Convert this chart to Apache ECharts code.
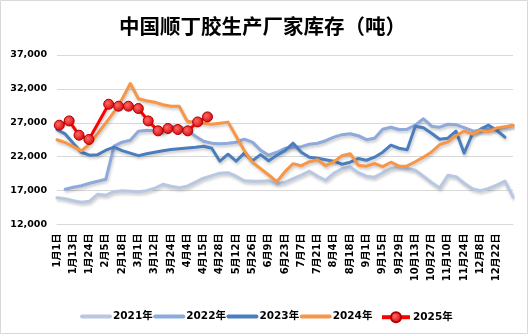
<!DOCTYPE html>
<html>
<head>
<meta charset="utf-8">
<script src="https://cdn.jsdelivr.net/npm/echarts@6/dist/echarts.min.js"></script>
<style>
html,body{margin:0;padding:0;background:#fff;}
#c{width:528px;height:334px;}
</style>
</head>
<body>
<div id="c"></div>
<script>
const categories = ['1月1日','1月7日','1月13日','1月18日','1月24日','1月30日','2月5日','2月12日','2月18日','2月24日',
 '3月1日','3月6日','3月12日','3月18日','3月24日','3月29日','4月4日','4月10日','4月15日','4月21日',
 '4月28日','5月5日','5月12日','5月19日','5月26日','6月2日','6月9日','6月16日','6月23日','6月30日',
 '7月7日','7月14日','7月21日','7月28日','8月4日','8月11日','8月18日','8月25日','9月1日','9月8日',
 '9月15日','9月22日','9月29日','10月6日','10月13日','10月20日','10月27日','11月3日','11月10日','11月17日',
 '11月24日','12月1日','12月8日','12月15日','12月22日','12月29日','12月31日'];
const categories2025 = ['1月3日','1月10日','1月17日','1月24日','1月31日','2月7日','2月14日','2月21日','2月28日','3月7日','3月14日','3月21日','3月28日','4月4日','4月11日','4月18日'];
const s2021 = [15950,15800,15510,15290,15440,16470,16320,16840,16990,16910,
 16840,16990,17350,17940,17650,17430,17650,18240,18830,19200,
 19570,19640,19120,18460,18390,18390,18460,18020,18240,18760,
 19270,19860,19120,18530,19570,20230,20500,19640,19120,18980,
 19640,20260,20500,20260,20010,19120,18200,17400,19270,19050,
 18090,17280,16990,17310,17800,18390,16070];
const s2022 = [null,17210,17500,17720,18090,18390,18680,23550,24140,24430,
 25760,25910,25840,25470,26500,26500,25910,25020,24290,24000,
 23920,24000,24140,24580,24140,22960,22220,22660,23250,23400,
 23480,23840,23990,24360,24880,25250,25390,25100,24510,24730,
 26060,26350,26010,26060,26650,27600,26500,26350,26790,26720,
 26280,25840,25760,26130,26060,26350,26650];
const s2023 = [26000,25360,24000,22660,22220,22300,22960,23400,22890,22520,
 22150,22440,22660,22890,23060,23180,23300,23400,23550,23250,
 21340,22370,21340,22520,21410,22300,21410,22220,22890,23990,
 22660,21930,21780,21560,21340,20890,21190,21740,21480,21930,
 22660,23700,23250,23030,26500,26280,25470,24580,24730,25760,
 22520,25320,26060,26650,25900,24880,null];
const s2024 = [24500,24100,23480,22860,23900,25400,27000,28600,30500,32800,
 30550,30260,30040,29670,29450,29450,27240,27100,26950,26800,
 26950,27100,25000,22900,21190,20230,19300,18310,19800,20970,
 20670,21260,21560,20670,21260,22150,22440,20750,20600,21000,
 20530,21190,20600,20640,21260,21930,22710,23770,24180,25100,
 25800,25320,25910,25660,26250,26430,26600];
const s2025 = [26650,27280,25170,24540,null,29740,29450,29450,29110,27280,25810,26160,26010,25810,27130,27870];
const yTicks = [12000,17000,22000,27000,32000,37000];
const seriesNames = ['2021年','2022年','2023年','2024年','2025年'];

const colors = ['#B9C8E2','#8EA9DB','#4A7EBE','#F79646','#FF0000'];
const lblFont = "'DejaVu Sans','Noto Sans CJK SC',sans-serif";
const shadow = {shadowColor:'rgba(0,0,0,0.22)',shadowBlur:3,shadowOffsetX:1,shadowOffsetY:2};
const legendText = {fontFamily:lblFont, fontSize:10.5, fontWeight:'bold', color:'#000', padding:[0,0,0,-2]};

function lineSeries(name, data, color){
  return {
    name, type:'line', data, xAxisIndex:0, yAxisIndex:0,
    symbol:'none', smooth:false, connectNulls:false,
    lineStyle:Object.assign({color, width:3, cap:'round', join:'round'}, shadow),
    itemStyle:{color}
  };
}

const chart = echarts.init(document.getElementById('c'), null, {renderer:'canvas'});
chart.setOption({
  animation:false,
  backgroundColor:'#fff',
  graphic:[{type:'rect', shape:{x:0.5,y:0.5,width:527,height:333}, style:{fill:'none',stroke:'#D9D9D9',lineWidth:1}, silent:true}],
  title:{
    text:'中国顺丁胶生产厂家库存（吨）', left:114, top:11,
    textStyle:{fontFamily:"'Noto Sans CJK SC',sans-serif", fontSize:20.5, fontWeight:'bold', color:'#000'}
  },
  legend:[
    {data:seriesNames.slice(0,4), left:75, top:306.2, itemWidth:28, itemHeight:4, itemGap:0.5,
     lineStyle:{width:4}, textStyle:legendText},
    {data:seriesNames.slice(4), left:375, top:306.2, itemWidth:28, itemHeight:12.5, itemGap:0.5,
     lineStyle:{width:4}, textStyle:legendText}
  ],
  grid:[
    {left:57, top:55, width:456, height:169.5},
    {left:59.3, top:55, width:148.2, height:169.5}
  ],
  xAxis:[
    {type:'category', gridIndex:0, data:categories, boundaryGap:false,
     axisLine:{lineStyle:{color:'#D9D9D9'}}, axisTick:{show:false},
     axisLabel:{rotate:90, margin:9, fontFamily:lblFont, fontSize:10, fontWeight:'bold', color:'#000',
       interval:function(i){return i%2===0 && i<categories.length-1;}},
     splitLine:{show:false}},
    {type:'category', gridIndex:1, data:categories2025, boundaryGap:false, show:false}
  ],
  yAxis:[
    {type:'value', gridIndex:0, min:yTicks[0], max:yTicks[yTicks.length-1], interval:yTicks[1]-yTicks[0],
     axisLine:{show:false}, axisTick:{show:false},
     axisLabel:{margin:10, fontFamily:lblFont, fontSize:9.5, fontWeight:'bold', color:'#000',
       formatter:function(v){return v.toLocaleString('en-US');}},
     splitLine:{lineStyle:{color:'#D9D9D9', width:1}}},
    {type:'value', gridIndex:1, min:yTicks[0], max:yTicks[yTicks.length-1], show:false, splitLine:{show:false}}
  ],
  series:[
    lineSeries(seriesNames[0], s2021, colors[0]),
    lineSeries(seriesNames[1], s2022, colors[1]),
    lineSeries(seriesNames[2], s2023, colors[2]),
    lineSeries(seriesNames[3], s2024, colors[3]),
    {
      name:seriesNames[4], type:'line', data:s2025, xAxisIndex:1, yAxisIndex:1,
      symbol:'circle', symbolSize:10, showAllSymbol:true, connectNulls:true,
      lineStyle:Object.assign({color:colors[4], width:3, join:'round'}, shadow),
      itemStyle:{
        color:{type:'radial', x:0.4, y:0.4, r:0.65, colorStops:[{offset:0,color:'#FF6A6A'},{offset:1,color:'#D40000'}]},
        borderColor:'#B00000', borderWidth:1
      }
    }
  ]
});
</script>
</body>
</html>
